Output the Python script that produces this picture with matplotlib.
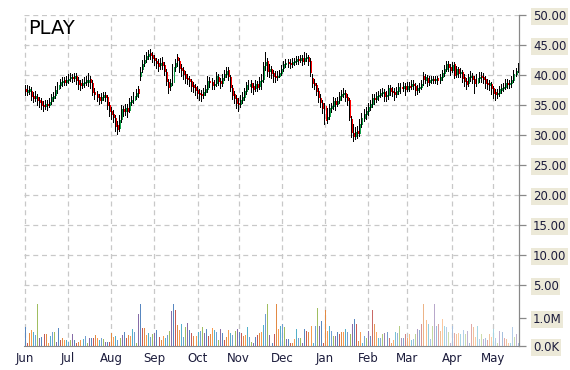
import matplotlib
matplotlib.use("Agg")
import matplotlib.pyplot as plt
import matplotlib.colors as mcolors
import numpy as np

title = "PLAY"
month_labels = ["Jun", "Jul", "Aug", "Sep", "Oct", "Nov", "Dec", "Jan", "Feb", "Mar", "Apr", "May"]
month_days = [21, 21, 21, 21, 20, 21, 21, 21, 19, 22, 20, 13]
price_ticks = [5, 10, 15, 20, 25, 30, 35, 40, 45, 50]
volume_ticks = [0.0, 1.0]
volume_tick_labels = ["0.0K", "1.0M"]

close = [37.3, 37.5, 37.6, 36.5, 36.2, 36.5, 35.8, 35.5, 35.0, 34.8, 35.2, 35.0, 35.5, 36.3, 36.5, 37.5, 38.3, 38.8, 39.0, 38.9, 39.2,
         39.4, 39.7, 39.5, 39.8, 39.2, 38.5, 38.3, 38.6, 38.9, 39.0, 39.2, 38.8, 37.2, 36.8, 36.4, 35.9, 36.3, 36.6, 36.4, 35.0, 34.0,
         33.5, 33.0, 31.5, 31.0, 32.5, 34.3, 34.0, 34.5, 34.0, 35.5, 35.8, 36.5, 37.0, 37.0, 40.5, 41.8, 42.5, 43.2, 43.5, 43.3, 42.8,
         42.5, 42.0, 41.5, 42.0, 41.7, 40.7, 39.0, 38.0, 38.7, 41.3, 42.0, 42.5, 41.2, 40.8, 40.2, 39.5, 39.3, 39.0, 38.2, 38.0, 37.5,
         37.0, 36.8, 36.6, 37.2, 37.6, 39.0, 38.8, 38.4, 38.5, 39.8, 39.0, 38.6, 39.5, 40.2, 40.6, 39.8, 38.0, 36.7, 36.2, 35.3,
         35.2, 35.9, 36.3, 37.3, 38.3, 38.5, 38.0, 37.7, 38.5, 38.0, 39.0, 39.2, 41.5, 42.2, 40.6, 41.0, 40.3, 39.8, 39.7, 39.9, 40.4,
         41.0, 41.8, 42.0, 42.0, 41.8, 42.1, 42.3, 42.6, 42.5, 42.8, 42.3, 42.9, 43.0, 42.4, 40.5, 38.6, 38.3, 37.3, 36.3, 35.5, 34.5,
         32.5, 33.0, 34.5, 34.8, 35.6, 35.2, 35.7, 36.5, 36.8, 37.0, 36.4, 35.9, 33.0, 30.5, 29.8, 30.5, 30.3, 31.8, 32.8, 33.5, 34.0,
         34.6, 35.2, 36.2, 36.0, 36.5, 36.7, 37.0, 37.2, 36.5, 36.7, 37.8, 37.3, 37.2, 36.8, 37.3, 38.0, 37.8, 38.2, 37.6,
         38.2, 38.0, 38.5, 38.3, 37.5, 37.8, 38.0, 38.5, 39.3, 39.6, 38.9, 39.2, 39.3, 39.2, 39.3, 39.1, 39.6, 40.3, 41.0, 41.8, 41.3, 40.8,
         41.7, 40.0, 41.0, 40.3, 40.5, 39.5, 39.0, 38.5, 39.6, 39.9, 39.3, 38.6, 39.5, 39.7, 39.6, 39.4, 38.7, 38.5, 38.5, 37.8,
         37.0, 36.8, 37.0, 37.6, 37.8, 38.0, 38.7, 38.5, 38.6, 39.2, 40.2, 40.6, 41.4]

open_ = [37.6, 37.2, 37.4, 37.4, 36.5, 36.1, 36.4, 35.9, 35.6, 35.0, 34.9, 35.2, 35.0, 35.6, 36.2, 36.6, 37.6, 38.4, 38.8, 39.1, 38.9,
         39.2, 39.5, 39.7, 39.5, 39.8, 39.1, 38.6, 38.3, 38.6, 38.9, 38.9, 39.3, 38.7, 37.2, 36.8, 36.4, 35.9, 36.3, 36.6, 36.3, 35.0,
         34.0, 33.5, 32.8, 31.6, 31.2, 32.6, 34.3, 34.0, 34.5, 34.1, 35.5, 35.8, 36.5, 37.6, 39.8, 41.0, 42.0, 42.7, 43.2, 43.6, 43.4,
         42.8, 42.4, 42.0, 41.6, 42.2, 41.6, 40.5, 38.8, 38.1, 38.8, 41.4, 43.0, 42.3, 41.2, 40.8, 40.1, 39.5, 39.4, 39.0, 38.3, 38.0,
         37.5, 37.0, 36.9, 36.6, 37.2, 37.6, 39.0, 38.9, 38.3, 38.6, 39.7, 39.0, 38.7, 39.6, 40.2, 40.8, 39.6, 37.9, 36.8, 36.1,
         35.4, 35.2, 35.9, 36.4, 37.4, 38.2, 38.6, 38.1, 37.8, 38.5, 38.1, 39.0, 39.3, 41.6, 42.3, 40.6, 41.0, 40.3, 39.8, 39.7, 39.9,
         40.4, 41.1, 41.8, 42.1, 42.0, 41.8, 42.1, 42.3, 42.6, 42.5, 42.8, 42.3, 42.8, 43.0, 42.3, 39.5, 38.6, 38.3, 37.3, 36.2, 35.4,
         34.8, 32.6, 33.2, 34.5, 34.9, 35.6, 35.2, 35.8, 36.5, 36.8, 37.0, 36.4, 35.8, 32.6, 30.4, 29.9, 30.6, 30.4, 31.9, 32.9, 33.5,
         34.0, 34.6, 35.2, 36.2, 36.0, 36.5, 36.7, 37.0, 37.1, 36.5, 36.6, 37.8, 37.3, 37.2, 36.8, 37.3, 38.0, 37.8, 38.1,
         37.7, 38.2, 38.1, 38.5, 38.2, 37.5, 37.8, 38.0, 39.9, 39.2, 39.5, 38.9, 39.1, 39.3, 39.2, 39.5, 39.1, 39.6, 40.3, 41.0, 41.8, 41.3,
         40.9, 41.8, 40.1, 41.0, 40.3, 40.5, 39.6, 39.0, 38.6, 39.6, 39.9, 39.3, 38.7, 39.5, 39.8, 39.7, 39.4, 38.7, 38.4, 38.5,
         37.8, 37.2, 36.8, 37.0, 37.5, 37.8, 38.0, 38.7, 38.5, 38.6, 39.2, 40.2, 40.6]

high = [38.3, 38.4, 38.2, 38.0, 37.2, 37.3, 36.9, 36.4, 36.2, 35.7, 35.9, 35.9, 36.2, 36.8, 37.2, 38.2, 38.9, 39.4, 39.7, 39.6, 39.9,
        40.1, 40.3, 40.2, 40.4, 40.3, 39.6, 39.1, 39.3, 39.6, 39.8, 40.3, 39.8, 39.1, 37.8, 37.4, 36.9, 37.0, 37.2, 37.2, 36.7, 35.5,
        34.7, 34.1, 33.4, 32.3, 33.3, 35.0, 34.9, 35.2, 35.2, 36.1, 36.5, 37.1, 37.6, 38.1, 41.3, 42.5, 43.3, 43.9, 44.2, 44.3, 43.9,
        43.3, 42.9, 42.6, 42.8, 43.0, 42.1, 41.0, 39.4, 39.3, 41.9, 42.7, 43.5, 42.8, 41.9, 41.3, 40.6, 40.2, 39.9, 39.4, 38.9, 38.5,
        38.1, 37.6, 37.5, 37.8, 38.3, 39.8, 39.7, 39.5, 39.2, 40.5, 40.2, 39.5, 40.2, 40.8, 41.3, 41.3, 40.0, 38.3, 37.4, 36.6,
        36.1, 36.6, 37.1, 37.9, 38.9, 39.2, 39.2, 38.7, 39.2, 39.0, 39.6, 40.1, 42.2, 43.8, 42.8, 41.8, 41.5, 40.9, 40.6, 40.6, 40.9,
        41.6, 42.4, 42.7, 42.6, 42.6, 42.8, 42.9, 43.2, 43.2, 43.4, 43.3, 43.9, 43.7, 43.4, 42.8, 40.1, 39.3, 38.7, 37.8, 36.8, 35.9,
        35.3, 34.5, 35.2, 35.4, 36.3, 36.2, 36.3, 37.1, 37.5, 37.8, 37.5, 36.9, 36.2, 33.1, 31.8, 31.3, 31.5, 32.7, 33.6, 34.3, 34.7,
        35.3, 35.8, 36.9, 36.9, 37.2, 37.4, 37.6, 37.9, 37.6, 37.3, 38.4, 38.3, 38.0, 37.8, 38.0, 38.6, 38.6, 38.8, 38.6,
        38.9, 38.8, 39.1, 39.2, 38.7, 38.4, 38.7, 39.2, 40.5, 40.2, 40.0, 39.8, 39.9, 39.9, 39.9, 39.9, 40.2, 40.9, 41.6, 42.4, 42.3, 41.8,
        42.2, 42.1, 41.5, 41.4, 41.2, 40.9, 40.1, 39.5, 40.2, 40.6, 40.3, 39.8, 40.1, 40.5, 40.5, 40.3, 39.8, 39.3, 39.2, 38.9,
        38.2, 37.7, 37.6, 38.2, 38.5, 38.7, 39.3, 39.3, 39.2, 39.9, 40.8, 41.2, 42.0]

low = [36.6, 36.7, 36.9, 35.8, 35.5, 35.6, 35.0, 34.6, 34.4, 34.0, 34.3, 34.2, 34.6, 35.1, 35.7, 36.1, 37.0, 37.8, 38.2, 38.3, 38.4,
       38.7, 39.0, 38.9, 39.0, 38.5, 37.7, 37.5, 37.8, 38.0, 38.3, 38.2, 37.8, 36.6, 36.0, 35.6, 35.1, 35.3, 35.8, 35.6, 34.3, 33.2,
       32.7, 32.2, 30.6, 30.2, 30.7, 32.2, 33.1, 33.4, 33.0, 33.8, 35.0, 35.3, 36.0, 36.4, 39.2, 40.5, 41.5, 42.2, 42.7, 42.6, 42.1,
       41.6, 41.1, 40.7, 41.0, 41.0, 40.0, 38.3, 37.0, 37.5, 38.4, 40.7, 41.5, 40.5, 39.9, 39.3, 38.7, 38.5, 38.1, 37.3, 37.1, 36.7,
       36.1, 35.9, 35.7, 36.1, 36.7, 37.1, 38.0, 37.6, 37.6, 38.1, 38.3, 37.8, 38.2, 39.1, 39.7, 39.1, 37.3, 36.0, 35.4, 34.5,
       34.0, 34.7, 35.3, 35.9, 36.9, 37.7, 37.1, 36.9, 37.3, 37.3, 37.6, 37.7, 38.9, 40.8, 39.9, 39.7, 39.5, 38.9, 38.9, 39.2, 39.6,
       40.0, 40.7, 41.3, 41.4, 41.2, 41.3, 41.6, 41.9, 41.8, 42.1, 41.7, 41.8, 42.3, 41.7, 39.9, 38.0, 37.7, 36.6, 35.5, 34.7, 33.7,
       31.9, 32.0, 32.7, 33.9, 34.3, 34.2, 34.8, 35.4, 35.9, 36.3, 35.7, 35.0, 32.5, 29.7, 29.0, 29.3, 29.5, 29.9, 31.3, 32.3, 32.7,
       33.3, 34.2, 34.6, 35.1, 35.5, 35.9, 36.3, 36.5, 35.7, 35.6, 36.0, 36.6, 36.5, 35.9, 36.3, 36.9, 37.0, 37.4, 36.7,
       37.3, 37.3, 37.7, 37.6, 36.7, 36.9, 37.1, 37.6, 38.4, 38.6, 38.2, 38.4, 38.6, 38.6, 38.6, 38.5, 38.7, 39.2, 39.9, 40.7, 40.6, 40.0,
       40.5, 39.5, 39.7, 39.6, 39.7, 38.8, 38.2, 37.7, 38.1, 39.0, 38.6, 37.0, 38.2, 38.9, 38.9, 38.6, 37.9, 37.7, 37.5, 36.9,
       36.1, 35.9, 36.1, 36.5, 37.0, 37.3, 37.6, 37.8, 37.8, 38.0, 38.8, 39.8, 40.5]

volume = [0.69, 0.12, 0.45, 0.57, 0.50, 0.40, 1.50, 0.27, 0.33, 0.43, 0.43, 0.12, 0.36, 0.49, 0.49, 0.15, 0.63, 0.21, 0.27, 0.21, 0.21,
          0.15, 0.20, 0.43, 0.20, 0.12, 0.15, 0.20, 0.24, 0.36, 0.12, 0.27, 0.27, 0.30, 0.40, 0.27, 0.21, 0.27, 0.24, 0.15, 0.15, 0.15,
          0.45, 0.33, 0.36, 0.21, 0.27, 0.40, 0.51, 0.27, 0.40, 0.36, 0.60, 0.51, 0.12, 1.14, 1.50, 0.65, 0.65, 0.40, 0.45, 0.33, 0.42,
          0.48, 0.57, 0.33, 0.20, 0.36, 0.27, 0.40, 0.52, 1.26, 1.50, 1.30, 0.75, 0.57, 0.80, 0.33, 0.67, 0.81, 0.57, 0.48, 0.36, 0.36,
          0.51, 0.55, 0.67, 0.45, 0.60, 0.36, 0.43, 0.63, 0.57, 0.51, 0.21, 0.60, 0.45, 0.21, 0.33, 0.57, 0.45, 0.40, 0.55, 0.60,
          0.51, 0.45, 0.36, 0.40, 0.67, 0.33, 0.15, 0.10, 0.33, 0.40, 0.45, 0.51, 0.75, 1.14, 1.50, 0.40, 0.12, 0.43, 1.50, 0.60, 0.71,
          0.80, 0.67, 0.24, 0.24, 0.12, 0.12, 0.24, 0.61, 0.30, 0.30, 0.12, 0.61, 0.55, 0.49, 0.73, 0.12, 0.73, 1.34, 0.73, 0.88, 0.12,
          1.28, 0.55, 0.70, 0.55, 0.37, 0.37, 0.49, 0.43, 0.49, 0.49, 0.61, 0.49, 0.43, 0.80, 0.98, 0.80, 0.18, 0.49, 0.12, 0.37, 0.30,
          0.55, 0.37, 1.28, 0.80, 0.49, 0.30, 0.30, 0.43, 0.45, 0.49, 0.30, 0.12, 0.21, 0.49, 0.45, 0.73, 0.30, 0.30, 0.43,
          0.30, 0.43, 0.21, 0.24, 0.43, 0.61, 0.57, 0.80, 1.50, 0.94, 0.80, 0.24, 0.73, 1.50, 0.73, 0.80, 0.55, 0.98, 0.73, 0.67, 0.49, 0.12,
          0.70, 0.45, 0.43, 0.45, 0.43, 0.57, 0.43, 0.55, 0.12, 0.80, 0.67, 0.33, 0.70, 0.24, 0.43, 0.24, 0.30, 0.21, 0.43, 0.33,
          0.61, 0.30, 0.12, 0.55, 0.49, 0.30, 0.24, 0.12, 0.12, 0.67, 0.33, 0.43, 0.12]

# ---------------------------------------------------------------------------
W, H = 570, 370
fig = plt.figure(figsize=(W / 100, H / 100), dpi=100)
ax_left, ax_right, ax_top, ax_bottom = 24, 519, 15, 346
ax = fig.add_axes([ax_left / W, 1 - ax_bottom / H, (ax_right - ax_left) / W, (ax_bottom - ax_top) / H])
ax2 = ax.twinx()

n = len(close)
idx = np.arange(n)
o = np.array(open_)
c = np.array(close)
hi = np.array(high)
lo = np.array(low)

grid_col = "#c8c8c8"
axis_col = "#888888"
text_col = "#1c1c3c"

# price scale: 6 px per unit, volume scale: 28 px per million
ax.set_ylim(50 - (ax_bottom - ax_top) / 6.0, 50)
ax2.set_ylim(0, (ax_bottom - ax_top) / 28.0)
ax.set_xlim(-0.5, n - 0.5)

# gridlines
month_pos = np.concatenate([[0], np.cumsum(month_days)[:-1]])
for y in price_ticks:
    ax.axhline(y, color=grid_col, lw=0.9, dashes=(4, 3), zorder=0)
for xm in month_pos:
    ax.axvline(xm, color=grid_col, lw=0.9, dashes=(4, 3), zorder=0)

# candles: 1px black wick, 1px coloured body next to it
px = 72.0 / 100.0  # one pixel in points
up = c >= o
body_lo = np.minimum(o, c)
body_hi = np.maximum(np.maximum(o, c), body_lo + 0.2)
cols = np.where(up, "#10a048", "#ff0000")
ax.vlines(idx - 0.2, lo, hi, color="black", lw=px, antialiased=False, zorder=3)
ax.vlines(idx + 0.3, body_lo, body_hi, colors=list(cols), lw=px, antialiased=False, zorder=4)

# volume bars with cycling palette, faded towards the end
palette = ["#4F81BD", "#F79646", "#9BBB59", "#C0504D", "#4BACC6", "#8064A2", "#E0843A", "#6A9AD0"]
vcols = []
for i in range(n):
    rgb = np.array(mcolors.to_rgb(palette[(i * 3) % len(palette)]))
    f = 0.05 + min(max((i - 160) / 45.0, 0.0), 1.0) * 0.45
    rgb = rgb * (1 - f) + f
    vcols.append(tuple(rgb))
ax2.vlines(idx, 0, volume, colors=vcols, lw=px, antialiased=False, zorder=2)

# spines
for a in (ax, ax2):
    for s in ("top", "left"):
        a.spines[s].set_visible(False)
    a.spines["right"].set_color(axis_col)
    a.spines["bottom"].set_color(axis_col)
ax2.spines["bottom"].set_visible(False)

# y ticks on right
ax.yaxis.tick_right()
ax.set_yticks(price_ticks)
ax.set_yticklabels([f"{v:.2f}" for v in price_ticks])
ax2.set_yticks(volume_ticks)
ax2.set_yticklabels(volume_tick_labels)
for a in (ax, ax2):
    a.tick_params(axis="y", which="both", right=True, left=False, length=5, width=0.9,
                  color=axis_col, pad=5, labelsize=8.5, labelcolor=text_col)
    for lab in a.get_yticklabels():
        lab.set_bbox(dict(facecolor="#ECE9D8", edgecolor="none", pad=1.2))

ax.set_xticks(month_pos)
ax.set_xticklabels(month_labels)
ax.tick_params(axis="x", length=0, pad=4, labelsize=8.5, labelcolor=text_col)

fig.text(28 / W, 1 - 28 / H, title, fontsize=14, va="center", ha="left", color="black")

fig.savefig("out.png", dpi=100)
